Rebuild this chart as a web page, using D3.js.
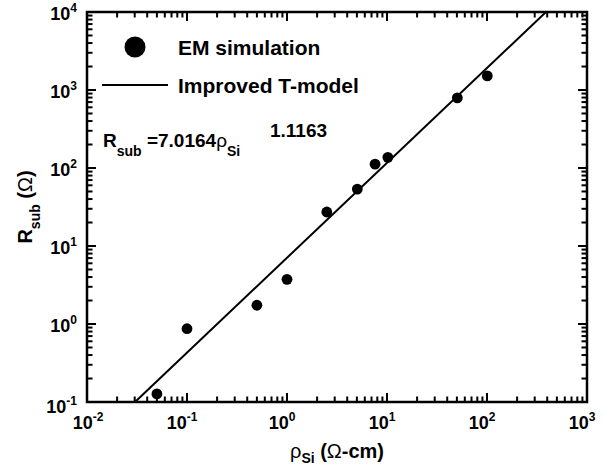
<!DOCTYPE html>
<html lang="en">
  <head>
    <meta charset="UTF-8" />
    <script src="https://d3js.org/d3.v7.min.js"></script>
    <style>
      body { margin: 0; background: #fff; }
      svg text { font-family: "Liberation Sans", Arial, sans-serif; font-weight: bold; fill: #000; }
    </style>
    <title>Rsub vs rho</title>
  </head>
  <body>
    <div id="my_dataviz"></div>
    <script>
      // EM simulation points
      var rho = [0.05, 0.1, 0.5, 1.0, 2.5, 5.05, 7.6, 10.2, 50.5, 100.7];
      var rsub = [0.127, 0.87, 1.74, 3.74, 27.3, 53.7, 112, 137, 794, 1515];
      // improved T-model line (end points as drawn)
      var fitRho = [0.0302, 389];
      var fitR = [0.1, 10000];
      // decade exponents for the tick labels
      var xExp = [-2, -1, 0, 1, 2, 3];
      var yExp = [-1, 0, 1, 2, 3, 4];

      var W = 603, H = 470;
      var margin = { top: 12, right: 16, bottom: 68, left: 87 };

      var svg = d3.select("#my_dataviz").append("svg")
        .attr("width", W).attr("height", H);

      var x = d3.scaleLog().domain([1e-2, 1e3]).range([margin.left, W - margin.right]);
      var y = d3.scaleLog().domain([1e-1, 1e4]).range([H - margin.bottom, margin.top]);
      var x0 = x.range()[0], x1 = x.range()[1], y0 = y.range()[0], y1 = y.range()[1];

      function tickList(exps) {
        var out = [];
        exps.forEach(function (e, i) {
          out.push({ v: Math.pow(10, e), len: 9 });
          if (i < exps.length - 1)
            for (var m = 2; m <= 9; m++) out.push({ v: m * Math.pow(10, e), len: 5.5 });
        });
        return out;
      }
      var xTicks = tickList(xExp), yTicks = tickList(yExp);

      var tg = svg.append("g").attr("stroke", "#000").attr("stroke-width", 2);
      // bottom and top ticks, pointing inward
      tg.selectAll("line.xb").data(xTicks).enter().append("line")
        .attr("x1", (d) => x(d.v)).attr("x2", (d) => x(d.v))
        .attr("y1", y0).attr("y2", (d) => y0 - d.len);
      tg.selectAll("line.xt").data(xTicks).enter().append("line")
        .attr("x1", (d) => x(d.v)).attr("x2", (d) => x(d.v))
        .attr("y1", y1).attr("y2", (d) => y1 + d.len);
      // left and right ticks
      tg.selectAll("line.yl").data(yTicks).enter().append("line")
        .attr("y1", (d) => y(d.v)).attr("y2", (d) => y(d.v))
        .attr("x1", x0).attr("x2", (d) => x0 + d.len);
      tg.selectAll("line.yr").data(yTicks).enter().append("line")
        .attr("y1", (d) => y(d.v)).attr("y2", (d) => y(d.v))
        .attr("x1", x1).attr("x2", (d) => x1 - d.len);

      // frame
      svg.append("rect")
        .attr("x", x0).attr("y", y1)
        .attr("width", x1 - x0).attr("height", y0 - y1)
        .attr("fill", "none").attr("stroke", "#000").attr("stroke-width", 2.5);

      // tick labels
      function powLabel(sel, e) {
        sel.append("tspan").text("10");
        sel.append("tspan").attr("font-size", 12).attr("dy", -8).text(e);
      }
      xExp.forEach(function (e, i) {
        var t = svg.append("text")
          .attr("x", x(Math.pow(10, e)) + (i === 0 ? 1 : -5))
          .attr("y", y0 + 27)
          .attr("text-anchor", "middle").attr("font-size", 18);
        powLabel(t, e);
      });
      yExp.forEach(function (e, i) {
        var t = svg.append("text")
          .attr("x", 77)
          .attr("y", y(Math.pow(10, e)) + (i === 0 ? 11 : 8))
          .attr("text-anchor", "end").attr("font-size", 18);
        powLabel(t, e);
      });

      // fit line
      svg.append("path")
        .datum(d3.zip(fitRho, fitR))
        .attr("d", d3.line().x((d) => x(d[0])).y((d) => y(d[1])))
        .attr("fill", "none").attr("stroke", "#000").attr("stroke-width", 2);

      // points
      svg.selectAll("circle.pt")
        .data(d3.zip(rho, rsub))
        .enter().append("circle")
        .attr("class", "pt")
        .attr("cx", (d) => x(d[0])).attr("cy", (d) => y(d[1]))
        .attr("r", 5.4).attr("fill", "#000");

      // legend
      svg.append("circle").attr("cx", 135).attr("cy", 47).attr("r", 10.5).attr("fill", "#000");
      svg.append("text").attr("x", 178).attr("y", 55).attr("font-size", 21).text("EM simulation");
      svg.append("line").attr("x1", 102).attr("x2", 168).attr("y1", 85).attr("y2", 85)
        .attr("stroke", "#000").attr("stroke-width", 2);
      svg.append("text").attr("x", 178).attr("y", 93).attr("font-size", 21).text("Improved T-model");

      // formula
      var f = svg.append("text").attr("x", 103).attr("y", 147).attr("font-size", 19);
      f.append("tspan").text("R");
      f.append("tspan").attr("font-size", 14).attr("dy", 9).text("sub");
      f.append("tspan").attr("dy", -9).text(" =7.0164");
      f.append("tspan").attr("font-weight", "normal").text("ρ");
      f.append("tspan").attr("font-size", 14).attr("dy", 9).text("Si");
      svg.append("text").attr("x", 270).attr("y", 137).attr("font-size", 19).text("1.1163");

      // axis titles
      var xt = svg.append("text")
        .attr("x", (x0 + x1) / 2).attr("y", 458)
        .attr("text-anchor", "middle").attr("font-size", 20);
      xt.append("tspan").attr("font-weight", "normal").text("ρ");
      xt.append("tspan").attr("font-size", 14).attr("dy", 5).text("Si");
      xt.append("tspan").attr("dy", -5).text(" (");
      xt.append("tspan").attr("font-weight", "normal").text("Ω");
      xt.append("tspan").text("-cm)");

      var yt = svg.append("text")
        .attr("transform", "translate(32," + (y0 + y1) / 2 + ") rotate(-90)")
        .attr("text-anchor", "middle").attr("font-size", 20);
      yt.append("tspan").text("R");
      yt.append("tspan").attr("font-size", 14).attr("dy", 8).text("sub");
      yt.append("tspan").attr("dy", -8).text(" (");
      yt.append("tspan").attr("font-weight", "normal").text("Ω");
      yt.append("tspan").text(")");
    </script>
  </body>
</html>
